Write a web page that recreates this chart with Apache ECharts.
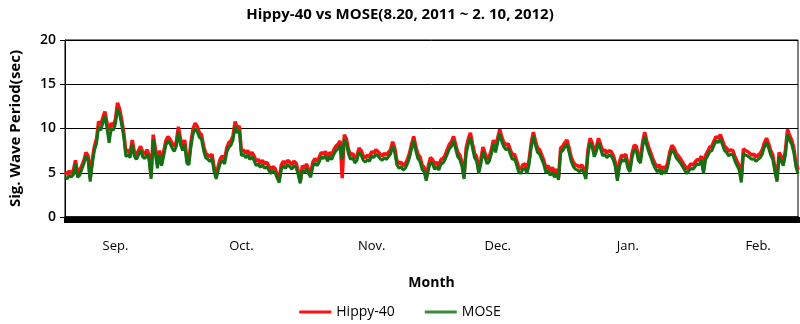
<!DOCTYPE html>
<html>
<head>
<meta charset="utf-8">
<script src="https://cdn.jsdelivr.net/npm/echarts@6/dist/echarts.min.js"></script>
<style>
html,body{margin:0;padding:0;background:#fff;}
#chart{width:800px;height:324px;}
</style>
</head>
<body>
<div id="chart"></div>
<script>
// Half-day samples from 2011-08-20 to 2012-02-10
const startDate = new Date(Date.UTC(2011, 7, 20));
const monthLabels = ['Sep.', 'Oct.', 'Nov.', 'Dec.', 'Jan.', 'Feb.'];
const monthIndex = [24, 84, 146, 206, 268, 330];
const yTicks = [0, 5, 10, 15, 20];

const hippy = [
5.1,4.8,5.2,4.9,5.3,6.4,5.0,5.2,5.8,6.4,7.3,6.9,4.4,6.5,8.0,8.8,10.8,10.4,11.2,11.9,
10.6,9.8,10.6,10.3,11.0,12.9,12.2,11.0,9.5,7.3,7.6,7.2,8.7,7.4,7.0,7.5,8.0,7.3,7.1,7.6,
7.0,4.6,9.3,7.8,6.0,7.5,6.2,7.4,8.6,9.1,8.8,8.3,8.0,8.5,10.2,8.8,8.0,8.7,6.6,6.4,
8.5,10.0,10.6,10.2,9.5,9.3,8.0,7.2,7.0,6.8,7.1,5.6,4.6,5.8,6.6,6.9,6.5,7.8,8.4,8.6,
9.2,10.8,10.0,10.3,7.4,7.6,7.2,7.5,7.0,7.3,6.9,6.3,6.5,6.1,6.4,6.0,6.2,5.8,5.3,5.7,
5.5,4.8,4.2,5.9,6.3,6.0,6.4,6.2,5.9,6.3,6.1,5.2,4.0,5.8,5.5,6.0,5.3,4.9,6.2,6.6,
6.3,6.7,7.3,7.1,7.4,6.8,7.3,7.0,7.6,8.0,8.2,8.6,4.4,9.3,8.8,7.6,7.0,7.2,6.6,6.9,
7.8,7.5,6.9,6.7,7.0,6.8,7.4,7.2,7.6,7.4,7.1,6.9,7.2,7.0,7.3,7.6,8.5,7.8,6.4,6.0,
6.2,5.8,6.0,6.5,7.2,8.2,9.1,8.0,7.1,6.8,5.9,5.6,4.4,5.8,6.7,6.5,5.9,6.2,5.8,6.5,
6.6,7.0,7.6,8.2,8.5,9.1,8.2,7.3,7.0,6.2,4.6,7.8,8.8,9.5,8.3,7.2,6.8,5.3,6.5,7.9,
7.2,6.5,6.8,7.6,8.7,7.8,8.9,9.9,9.0,8.4,8.1,8.3,7.6,7.0,7.1,6.4,5.6,5.4,5.9,6.0,
5.4,6.5,8.4,9.6,8.6,7.8,7.6,7.0,6.4,5.5,5.8,5.2,5.6,5.0,5.4,4.5,7.8,8.0,8.4,8.7,
7.8,6.8,6.2,5.9,5.8,5.6,5.9,5.5,4.7,7.6,8.9,8.4,7.3,7.9,8.9,8.2,7.4,7.6,7.2,7.5,
7.4,7.0,6.2,4.4,6.2,7.0,6.8,7.1,6.0,5.6,7.2,8.1,8.0,6.9,6.6,8.4,9.6,8.6,7.8,7.2,
6.5,6.0,5.6,5.9,5.3,5.7,5.4,6.2,7.4,8.1,7.8,7.2,6.9,6.6,6.2,5.8,5.4,5.7,6.0,5.9,
6.2,6.5,6.4,6.9,5.3,7.0,7.4,7.9,8.0,8.6,9.1,8.9,9.3,8.7,8.0,7.8,7.4,7.6,7.5,6.8,
6.3,5.8,4.2,7.7,7.5,7.4,7.2,7.0,7.1,6.8,7.0,7.2,7.6,8.4,8.9,8.3,7.5,7.0,5.6,4.2,
7.3,6.8,6.3,7.5,9.9,9.2,8.7,7.8,6.1,5.3
];

const mose = [
4.5,4.3,4.7,4.5,4.8,6.0,4.5,4.7,5.4,6.0,6.9,6.4,4.0,6.0,7.5,8.3,10.2,9.8,10.6,11.4,
10.0,8.4,10.0,9.8,10.5,12.2,11.6,10.4,9.0,6.8,7.1,6.7,8.2,6.9,6.5,7.0,7.6,6.8,6.6,7.1,
6.5,4.3,8.8,7.2,5.5,7.0,5.8,6.9,8.1,8.6,8.3,7.8,7.4,8.0,9.6,8.2,7.5,8.2,6.1,5.9,
8.0,9.4,10.0,9.6,9.0,8.8,7.5,6.7,6.5,6.3,6.6,5.1,4.3,5.3,6.1,6.4,6.0,7.3,7.9,8.1,
8.7,10.2,9.5,9.8,6.9,7.1,6.7,7.0,6.5,6.8,6.4,5.8,6.0,5.6,5.9,5.5,5.7,5.3,4.9,5.2,
5.0,4.4,3.9,5.4,5.8,5.5,5.9,5.7,5.4,5.8,5.6,4.8,3.8,5.3,5.0,5.5,4.9,4.5,5.7,6.1,
5.8,6.2,6.8,6.6,6.9,6.3,6.8,6.5,7.1,7.5,7.7,8.1,6.5,8.8,8.3,7.1,6.5,6.7,6.1,6.4,
7.3,7.0,6.4,6.2,6.5,6.3,6.9,6.7,7.1,6.9,6.6,6.4,6.7,6.5,6.8,7.1,8.0,7.3,5.9,5.5,
5.7,5.3,5.5,6.0,6.7,7.7,8.6,7.5,6.6,6.3,5.4,5.1,4.1,5.3,6.2,6.0,5.4,5.7,5.3,6.0,
6.1,6.5,7.1,7.7,8.0,8.6,7.7,6.8,6.5,5.7,4.3,7.2,8.2,9.0,7.8,6.7,6.3,4.9,6.0,7.4,
6.7,6.0,6.3,7.1,8.2,7.3,8.4,9.4,8.5,7.9,7.6,7.8,7.1,6.5,6.6,5.9,5.1,4.9,5.4,5.5,
4.9,6.0,7.9,9.1,8.1,7.3,7.1,6.5,5.9,5.0,5.3,4.7,5.1,4.5,4.9,4.2,7.3,7.5,7.9,8.2,
7.3,6.3,5.7,5.4,5.3,5.1,5.4,5.0,4.3,7.1,8.4,7.9,6.8,7.4,8.4,7.7,6.9,7.1,6.7,7.0,
6.9,6.5,5.7,4.1,5.7,6.5,6.3,6.6,5.5,5.1,6.7,7.6,7.5,6.4,6.1,7.9,9.1,8.1,7.3,6.7,
6.0,5.5,5.1,5.4,4.8,5.2,4.9,5.7,6.9,7.6,7.3,6.7,6.4,6.1,5.7,5.3,4.9,5.2,5.5,5.4,
5.7,6.0,5.9,6.4,4.9,6.5,6.9,7.4,7.5,8.1,8.6,8.4,8.8,8.2,7.5,7.3,6.9,7.1,7.0,6.3,
5.8,5.3,3.9,7.2,7.0,6.9,6.7,6.5,6.6,6.3,6.5,6.7,7.1,7.9,8.4,7.8,7.0,6.5,5.1,4.0,
6.8,6.3,5.8,7.0,9.3,8.7,8.2,7.3,5.7,4.9
];

// category labels: half-day time stamps
const categories = hippy.map((_, i) => {
  const d = new Date(startDate.getTime() + i * 12 * 3600 * 1000);
  return d.toISOString().slice(0, 13);
});

const FONT = "'Open Sans', 'Noto Sans', sans-serif";
const chart = echarts.init(document.getElementById('chart'), null, {renderer: 'canvas'});
chart.setOption({
  animation: false,
  backgroundColor: '#fff',
  title: {
    text: 'Hippy-40 vs MOSE(8.20, 2011 ~ 2. 10, 2012)',
    left: 'center',
    top: 2,
    textStyle: {fontFamily: FONT, fontSize: 15, fontWeight: 'bold', color: '#000'}
  },
  legend: {
    bottom: 0,
    left: 'center',
    itemWidth: 32,
    itemHeight: 3,
    itemGap: 30,
    icon: 'rect',
    textStyle: {fontFamily: FONT, fontSize: 14, color: '#000'},
    data: ['Hippy-40', 'MOSE']
  },
  grid: {left: 63, right: 2, top: 40, bottom: 107, show: true, borderColor: '#000', borderWidth: 1},
  xAxis: {
    type: 'category',
    data: categories,
    boundaryGap: false,
    name: 'Month',
    nameLocation: 'middle',
    nameGap: 59,
    nameTextStyle: {fontFamily: FONT, fontSize: 14, fontWeight: 'bold', color: '#000'},
    axisLine: {lineStyle: {color: '#000', width: 1.5}},
    axisTick: {show: true, interval: 0, length: 6, lineStyle: {color: '#000', width: 3}},
    axisLabel: {
      interval: (idx) => monthIndex.includes(idx),
      formatter: (val, idx) => monthLabels[monthIndex.indexOf(idx)] || '',
      margin: 23,
      fontFamily: FONT, fontSize: 13, color: '#000'
    },
    splitLine: {show: false}
  },
  yAxis: {
    type: 'value',
    min: yTicks[0],
    max: yTicks[yTicks.length - 1],
    interval: 5,
    name: 'Sig. Wave Period(sec)',
    nameLocation: 'middle',
    nameGap: 42,
    nameTextStyle: {fontFamily: FONT, fontSize: 15, fontWeight: 'bold', color: '#000'},
    axisLine: {show: true, lineStyle: {color: '#000', width: 1}},
    axisTick: {show: true, length: 5, lineStyle: {color: '#000'}},
    axisLabel: {fontFamily: FONT, fontSize: 14, fontWeight: 600, color: '#000', margin: 9},
    splitLine: {show: true, lineStyle: {color: '#000', width: 1}}
  },
  series: [
    {
      name: 'Hippy-40', type: 'line', data: hippy, symbol: 'none',
      lineStyle: {color: '#ff1010', width: 3.5}, itemStyle: {color: '#ff1010'}
    },
    {
      name: 'MOSE', type: 'line', data: mose, symbol: 'none',
      lineStyle: {color: '#137013', width: 3}, itemStyle: {color: '#3b8c3b'}
    }
  ]
});
</script>
</body>
</html>
